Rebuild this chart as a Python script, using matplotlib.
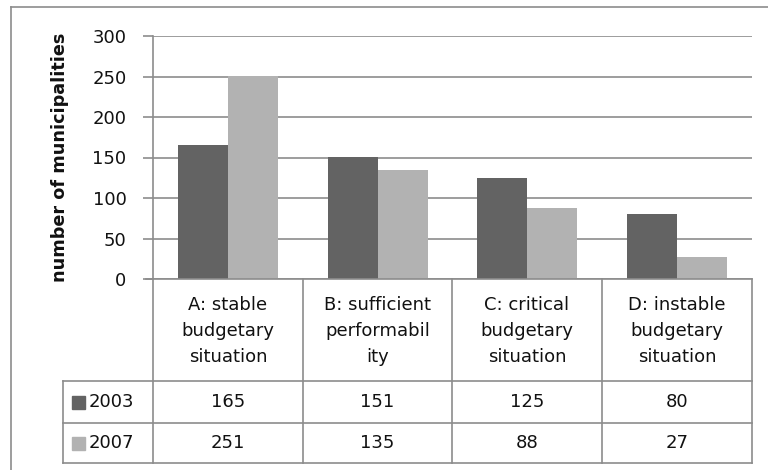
import matplotlib.pyplot as plt
from matplotlib.lines import Line2D
import numpy as np

categories = ['A: stable\nbudgetary\nsituation',
              'B: sufficient\nperformabil\nity',
              'C: critical\nbudgetary\nsituation',
              'D: instable\nbudgetary\nsituation']
years = ['2003', '2007']
values_2003 = [165, 151, 125, 80]
values_2007 = [251, 135, 88, 27]
colors = ['#636363', '#b2b2b2']
yticks = [0, 50, 100, 150, 200, 250, 300]

W, H = 768, 470
plt.rcParams['font.family'] = ['DejaVu Sans']
fig = plt.figure(figsize=(W / 100, H / 100), dpi=100)

def fx(x):
    return x / W

def fy(y):
    return 1 - y / H

grid_c = '#8c8c8c'
txt_c = '#111111'

# plot area in pixel layout
left, right, top, bottom = 153, 752, 36, 279
ax = fig.add_axes([fx(left), fy(bottom), fx(right - left), (bottom - top) / H])

x = np.arange(len(categories))
bw = 1 / 3
ax.bar(x - bw / 2, values_2003, bw, color=colors[0], zorder=3)
ax.bar(x + bw / 2, values_2007, bw, color=colors[1], zorder=3)

ax.set_xlim(-0.5, len(categories) - 0.5)
ax.set_ylim(0, 300)
ax.set_yticks(yticks)
ax.tick_params(axis='y', length=7, width=1.2, color=grid_c, labelsize=13, pad=12,
               labelcolor=txt_c)
ax.set_xticks([])
ax.yaxis.grid(True, color=grid_c, lw=1.2, zorder=0)
for s in ['top', 'right', 'bottom']:
    ax.spines[s].set_visible(False)
ax.spines['left'].set_color(grid_c)
ax.spines['left'].set_linewidth(1.2)
ax.set_ylabel('number of municipalities', fontsize=12.7, fontweight='bold', labelpad=17,
              color=txt_c)

# data table below the plot
col_edges = [153, 303, 452, 602, 752]
row_edges = [279, 381, 423, 463]
leg_left = 63

def hline(y, x0, x1):
    fig.add_artist(Line2D([fx(x0), fx(x1)], [fy(y), fy(y)], color=grid_c, lw=1.2))

def vline(x0, y0, y1):
    fig.add_artist(Line2D([fx(x0), fx(x0)], [fy(y0), fy(y1)], color=grid_c, lw=1.2))

hline(279, 146, 752)
for y in row_edges[1:]:
    hline(y, leg_left, 752)
vline(leg_left, 381, 463)
for cx in col_edges:
    vline(cx, 279, 463)

for i, cat in enumerate(categories):
    cx = (col_edges[i] + col_edges[i + 1]) / 2
    fig.text(fx(cx), fy((row_edges[0] + row_edges[1]) / 2 + 1), cat, ha='center', va='center',
             fontsize=13, linespacing=1.6, color=txt_c)
    for r, vals in enumerate([values_2003, values_2007]):
        cy = (row_edges[r + 1] + row_edges[r + 2]) / 2
        fig.text(fx(cx), fy(cy), str(vals[i]), ha='center', va='center', fontsize=13,
                 color=txt_c)

for r, yr in enumerate(years):
    cy = (row_edges[r + 1] + row_edges[r + 2]) / 2
    fig.add_artist(plt.Rectangle((fx(72), fy(cy + 6.5)), 13 / W, 13 / H, color=colors[r]))
    fig.text(fx(89), fy(cy), yr, ha='left', va='center', fontsize=13, color=txt_c)

# outer chart frame
fig.add_artist(Line2D([fx(11), fx(11)], [fy(7), 0], color=grid_c, lw=1.2))
fig.add_artist(Line2D([fx(11), 1], [fy(7), fy(7)], color=grid_c, lw=1.2))

fig.savefig('out.png', dpi=100)
